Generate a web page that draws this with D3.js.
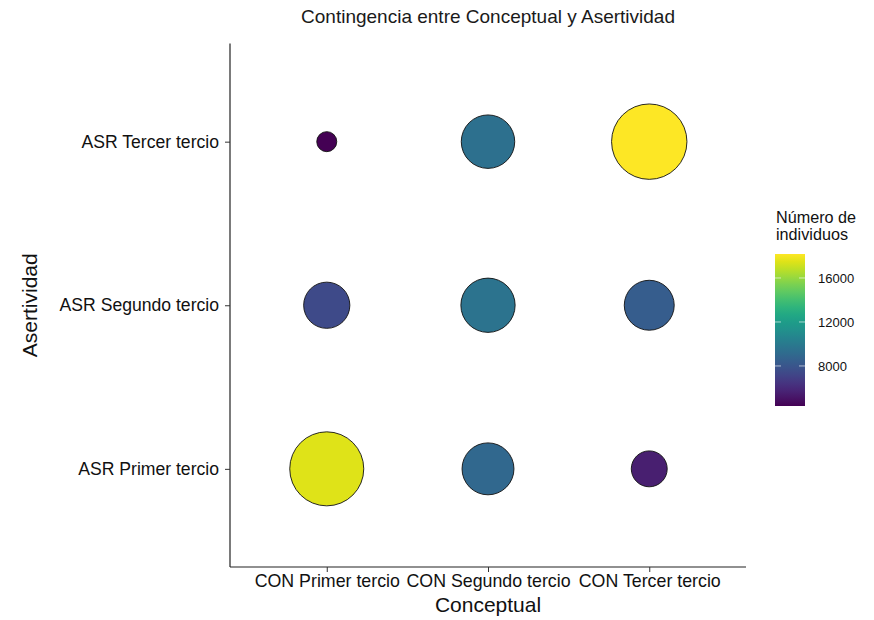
<!DOCTYPE html>
<html>
<head>
<meta charset="utf-8">
<script src="https://cdn.jsdelivr.net/npm/d3@7"></script>
<style>
  body { margin: 0; background: #fff; }
  text { font-family: "Liberation Sans", Arial, Helvetica, sans-serif; }
</style>
</head>
<body>
<svg id="chart" width="874" height="620"></svg>
<script>
const conceptual = ["CON Primer tercio", "CON Segundo tercio", "CON Tercer tercio"];
const asertividad = ["ASR Primer tercio", "ASR Segundo tercio", "ASR Tercer tercio"];
// counts per Asertividad row, across Conceptual columns
const countsPrimer = [17500, 8950, 5500];
const countsSegundo = [7450, 9650, 8400];
const countsTercer = [4360, 9400, 18180];
const legendTicks = [8000, 12000, 16000];

(function () {
const rows = [countsPrimer, countsSegundo, countsTercer];
const data = [];
asertividad.forEach((a, i) => conceptual.forEach((c, j) => data.push({ a, c, n: rows[i][j] })));

const svg = d3.select("#chart");
const pLeft = 230, pRight = 746, pTop = 43.5, pBottom = 567;

const x = d3.scalePoint().domain(conceptual).range([pLeft, pRight]).padding(0.6);
const y = d3.scalePoint().domain(asertividad).range([pBottom, pTop]).padding(0.6);

const ext = d3.extent(data, d => d.n);
const norm = d3.scaleLinear().domain(ext).range([0, 1]);
const rScale = d3.scaleLinear().domain([0, 1]).range([10, 37.7]);
const color = d3.scaleSequential(d3.interpolateViridis).domain(ext);

// Title
svg.append("text").attr("x", (pLeft + pRight) / 2).attr("y", 23).attr("text-anchor", "middle")
  .attr("font-size", 19).attr("fill", "#1a1a1a").text("Contingencia entre Conceptual y Asertividad");

// Axes
const xAxis = svg.append("g").attr("transform", `translate(0,${pBottom})`)
  .call(d3.axisBottom(x).tickSize(5).tickSizeOuter(0));
xAxis.select(".domain").attr("stroke", "#222").attr("stroke-width", 1.2).attr("d", `M${pLeft},0H${pRight}`);
xAxis.selectAll(".tick line").attr("stroke", "#333");
xAxis.selectAll(".tick text").attr("font-size", 17.8).attr("fill", "#111").attr("y", 7).attr("dy", "0.71em")
  .style("font-family", "Liberation Sans, Arial, sans-serif");

const yAxis = svg.append("g").attr("transform", `translate(${pLeft},0)`)
  .call(d3.axisLeft(y).tickSize(5).tickSizeOuter(0));
yAxis.select(".domain").attr("stroke", "#222").attr("stroke-width", 1.2).attr("d", `M0,${pTop}V${pBottom}`);
yAxis.selectAll(".tick line").attr("stroke", "#333");
yAxis.selectAll(".tick text").attr("font-size", 17.6).attr("fill", "#111").attr("x", -11)
  .style("font-family", "Liberation Sans, Arial, sans-serif");

// Axis titles
svg.append("text").attr("x", (pLeft + pRight) / 2).attr("y", 612).attr("text-anchor", "middle")
  .attr("font-size", 21).attr("fill", "#111").text("Conceptual");
svg.append("text").attr("transform", `translate(37,${(pTop + pBottom) / 2}) rotate(-90)`).attr("text-anchor", "middle")
  .attr("font-size", 21).attr("fill", "#111").text("Asertividad");

// Bubbles
svg.append("g").selectAll("circle").data(data).join("circle")
  .attr("cx", d => x(d.c)).attr("cy", d => y(d.a))
  .attr("r", d => rScale(Math.sqrt(norm(d.n))))
  .attr("fill", d => color(d.n)).attr("stroke", "#111").attr("stroke-width", 0.9);

// Legend
const lg = svg.append("g");
lg.append("text").attr("x", 776).attr("y", 223).attr("font-size", 16.2).attr("fill", "#111").text("Número de");
lg.append("text").attr("x", 776).attr("y", 240).attr("font-size", 16.2).attr("fill", "#111").text("individuos");

const barX = 775, barW = 30, barTop = 254, barBottom = 406;
const defs = svg.append("defs");
const grad = defs.append("linearGradient").attr("id", "vgrad").attr("x1", 0).attr("y1", 1).attr("x2", 0).attr("y2", 0);
d3.range(0, 1.0001, 0.05).forEach(t => {
  grad.append("stop").attr("offset", t).attr("stop-color", d3.interpolateViridis(t));
});
lg.append("rect").attr("x", barX).attr("y", barTop).attr("width", barW).attr("height", barBottom - barTop)
  .attr("fill", "url(#vgrad)");
const ly = d3.scaleLinear().domain(ext).range([barBottom, barTop]);
legendTicks.forEach(v => {
  lg.append("line").attr("x1", barX).attr("x2", barX + 6).attr("y1", ly(v)).attr("y2", ly(v)).attr("stroke", "#fff").attr("stroke-opacity", 0.6);
  lg.append("line").attr("x1", barX + barW - 6).attr("x2", barX + barW).attr("y1", ly(v)).attr("y2", ly(v)).attr("stroke", "#fff").attr("stroke-opacity", 0.6);
  lg.append("text").attr("x", 818).attr("y", ly(v)).attr("dy", "0.35em").attr("font-size", 13).attr("fill", "#111").text(v);
});
})();
</script>
</body>
</html>
